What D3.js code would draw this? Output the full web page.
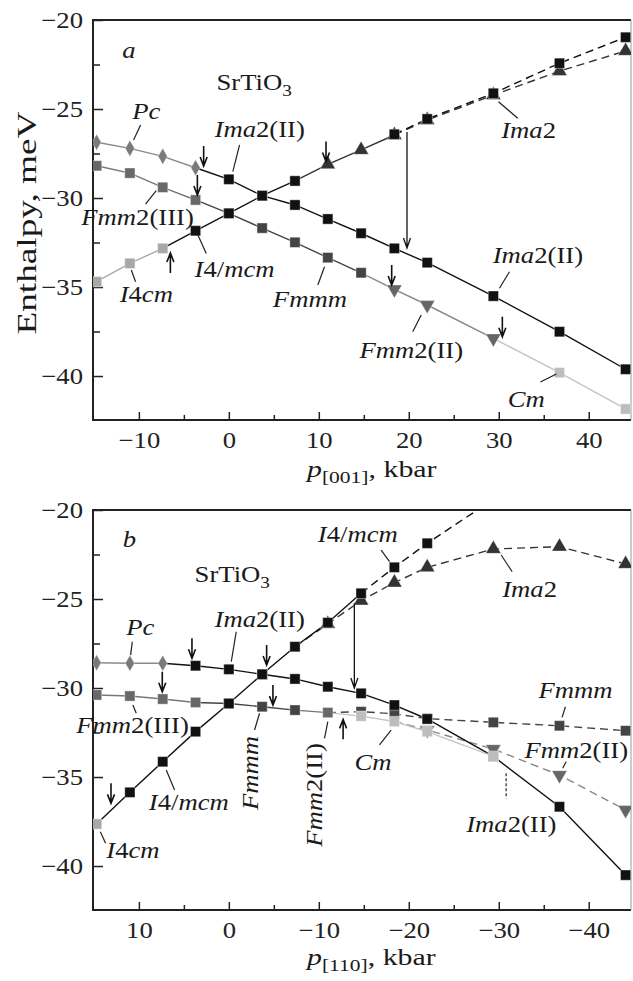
<!DOCTYPE html>
<html>
<head>
<meta charset="utf-8">
<script src="https://cdn.jsdelivr.net/npm/d3@7"></script>
<style>
body { margin: 0; background: #fff; }
</style>
</head>
<body>
<script>
// SrTiO3 enthalpy vs uniaxial pressure, two panels

var W = 633, H = 981;
var serif = "'Liberation Serif', 'Times New Roman', serif";
var TXT = 23, STRETCH = 1.16;   // reference glyphs are wide for their height

// ---------- panel a : p[001] ----------
var aPc_p = [-14.7, -11, -7.35, -3.7];
var aPc_e = [-26.87, -27.21, -27.66, -28.30];
var aIma2II_p = [0, 3.7, 7.35, 11, 14.7, 18.4, 22.05, 29.4, 36.75, 44.1];
var aIma2II_e = [-28.95, -29.87, -30.39, -31.18, -31.98, -32.83, -33.63, -35.51, -37.51, -39.62];
var aFmm2III_p = [-14.7, -11, -7.35, -3.7];
var aFmm2III_e = [-28.19, -28.60, -29.40, -30.11];
var aFmmm_p = [0, 3.7, 7.35, 11, 14.7];
var aFmmm_e = [-30.86, -31.69, -32.49, -33.35, -34.20];
var aFmm2II_p = [18.4, 22.05, 29.4];
var aFmm2II_e = [-35.13, -36.01, -37.88];
var aCm_p = [36.75, 44.1];
var aCm_e = [-39.81, -41.85];
var aI4cm_p = [-14.7, -11, -7.35];
var aI4cm_e = [-34.70, -33.67, -32.83];
var aI4mcm_p = [-3.7, 0, 3.7, 7.35];
var aI4mcm_e = [-31.84, -30.86, -29.87, -29.04];
var aIma2_p = [11, 14.7, 18.4];
var aIma2_e = [-28.11, -27.30, -26.46];
var aIma2d_p = [22.05, 29.4, 36.75, 44.1];
var aIma2d_e = [-25.62, -24.22, -22.87, -21.74];
var aI4mcmd_p = [18.4, 22.05, 29.4, 36.75, 44.1];
var aI4mcmd_e = [-26.42, -25.56, -24.12, -22.43, -20.97];

// ---------- panel b : p[110] ----------
var bPc_p = [14.7, 11, 7.35];
var bPc_e = [-28.58, -28.61, -28.61];
var bIma2II_p = [3.7, 0, -3.7, -7.35, -11, -14.7, -18.4, -22.05, -29.4, -36.75, -44.1];
var bIma2II_e = [-28.75, -28.95, -29.23, -29.49, -29.93, -30.30, -30.96, -31.74, -33.84, -36.67, -40.51];
var bFmm2III_p = [14.7, 11, 7.35, 3.7];
var bFmm2III_e = [-30.39, -30.45, -30.62, -30.81];
var bFmmm_p = [0, -3.7, -7.35];
var bFmmm_e = [-30.87, -31.05, -31.24];
var bFmm2II_p = [-11];
var bFmm2II_e = [-31.38];
var bCm_p = [-14.7, -18.4, -22.05, -29.4];
var bCm_e = [-31.58, -31.88, -32.45, -33.84];
var bFmmmd_p = [-14.7, -18.4, -22.05, -29.4, -36.75, -44.1];
var bFmmmd_e = [-31.33, -31.45, -31.72, -31.93, -32.12, -32.40];
var bFmm2IId_p = [-22.05, -29.4, -36.75, -44.1];
var bFmm2IId_e = [-32.36, -33.43, -34.89, -36.85];
var bI4cm_p = [14.7];
var bI4cm_e = [-37.64];
var bI4mcm_p = [11, 7.35, 3.7, 0, -3.7, -7.35, -11, -14.7];
var bI4mcm_e = [-35.86, -34.14, -32.45, -30.87, -29.23, -27.68, -26.33, -24.68];
var bI4mcmd_p = [-18.4, -22.05, -29.4];
var bI4mcmd_e = [-23.22, -21.87, -19.4];
var bIma2d_p = [-11, -14.7, -18.4, -22.05, -29.4, -36.75, -44.1];
var bIma2d_e = [-26.40, -25.09, -24.08, -23.22, -22.19, -22.06, -23.03];

// ticks
var yTicks = [-40, -35, -30, -25, -20];
var yMinor = [-37.5, -32.5, -27.5, -22.5];
var aXTicks = [-10, 0, 10, 20, 30, 40];
var aXMinor = [-5, 5, 15, 25, 35];
var bXTicks = [10, 0, -10, -20, -30, -40];
var bXMinor = [5, -5, -15, -25, -35];

// arrows (pressure, tip enthalpy, direction 1 = down)
var aArrP = [-2.8, -3.5, 10.8, -6.5, 18.1, 30.4];
var aArrE = [-28.20, -29.83, -27.95, -33.09, -34.89, -37.79];
var aArrDir = [1, 1, 1, -1, 1, 1];
var bArrP = [4.1, -4.2, 7.4, -4.9, 13.1, -12.7];
var bArrE = [-28.33, -28.71, -30.21, -30.96, -36.48, -31.76];
var bArrDir = [1, 1, 1, 1, 1, -1];
var aLong = [19.8, -26.29, -32.81];
var bLong = [-13.95, -25.24, -30.0];

// labels: "*" toggles italic, "_" subscript
var aLabText = ["*a*", "SrTiO_3", "*Pc*", "*Ima*2(II)", "*Fmm*2(III)", "*I*4/*mcm*", "*I*4*cm*",
                "*Fmmm*", "*Ima*2", "*Ima*2(II)", "*Fmm*2(II)", "*Cm*"];
var aLabP = [-11.84, -1.37, -10.73, -1.59, -16.4, -3.81, -12.14, 4.89, 30.27, 29.33, 14.52, 31.0];
var aLabE = [-22.13, -23.93, -25.56, -26.56, -31.52, -34.46, -35.83, -36.11, -26.65, -33.67, -39.01, -41.72];
var aLeaders = [
  [-9.81, -25.90, -10.59, -26.74],
  [1.19, -27.02, 0.44, -28.52],
  [-9.26, -30.34, -8.07, -29.59],
  [-3.44, -32.08, -2.51, -33.11],
  [-10.84, -34.04, -10.37, -34.70],
  [10.63, -33.86, 9.89, -34.89],
  [29.97, -24.59, 32.11, -25.52],
  [31.19, -34.14, 30.08, -35.07],
  [21.38, -36.57, 20.44, -37.51],
  [34.63, -40.34, 36.41, -39.89]
];

var bLabText = ["*b*", "SrTiO_3", "*Pc*", "*Ima*2(II)", "*I*4/*mcm*", "*Ima*2", "*Fmmm*", "*Fmm*2(II)",
                "*Ima*2(II)", "*Cm*", "*Fmm*2(III)", "*I*4/*mcm*", "*I*4*cm*", "*Fmmm*", "*Fmm*2(II)"];
var bLabP = [11.78, 3.81, 11.4, 1.59, -9.89, -30.38, -34.41, -32.86, -26.38, -13.97, 16.96, 8.89, 13.62, -3.22, -10.3];
var bLabE = [-22.06, -24.03, -27.02, -26.56, -21.78, -24.87, -30.56, -33.95, -38.07, -34.61, -32.54, -36.85, -39.57, -36.85, -38.92];
var bLabRot = [0, 0, 0, 0, 0, 0, 0, 0, 0, 0, 0, 0, 0, 1, 1];
var bLeaders = [
  [10.73, -27.40, 10.92, -28.15],
  [-0.82, -26.84, -0.27, -28.52],
  [-16.93, -22.25, -17.86, -22.90],
  [-30.27, -22.53, -31.49, -23.47],
  [-37.41, -31.05, -37.04, -31.65],
  [-37.49, -34.14, -37.11, -34.51],
  [-30.82, -34.79, -30.82, -36.2],
  [-16.74, -33.20, -18.04, -32.36],
  [10.29, -31.42, 10.67, -30.96],
  [6.96, -34.61, 6.03, -35.73],
  [14.29, -38.07, 13.7, -38.72],
  [-3.41, -31.42, -2.86, -32.36],
  [-11, -31.89, -10.63, -32.83]
];
var bLeaderDash = [0, 0, 0, 0, 0, 0, 1, 0, 0, 0, 0, 0, 0];

// phase styles
var sty = {
  Pc:      {sym: "diamond", fill: "#7a7a7a", line: "#8a8a8a"},
  Fmm2III: {sym: "square",  fill: "#686868", line: "#777"},
  Fmmm:    {sym: "square",  fill: "#444",    line: "#444"},
  Fmm2II:  {sym: "tridown", fill: "#666",    line: "#888"},
  Cm:      {sym: "square",  fill: "#bdbdbd", line: "#c4c4c4"},
  I4cm:    {sym: "square",  fill: "#a8a8a8", line: "#aaa"},
  Ima2:    {sym: "triup",   fill: "#333",    line: "#333"},
  black:   {sym: "square",  fill: "#111",    line: "#111"}
};

function ph(p, e, s, opt) {
  var o = {p: p, e: e, s: sty[s], dash: false, join: null};
  if (opt) { for (var k in opt) o[k] = opt[k]; }
  return o;
}

// panel a phases, in marker drawing order
var aPh = {};
aPh.Pc = ph(aPc_p, aPc_e, "Pc");
aPh.Fmm2III = ph(aFmm2III_p, aFmm2III_e, "Fmm2III");
aPh.Fmmm = ph(aFmmm_p, aFmmm_e, "Fmmm", {join: ["Fmm2III", 3]});
aPh.Fmm2II = ph(aFmm2II_p, aFmm2II_e, "Fmm2II", {join: ["Fmmm", 4]});
aPh.Cm = ph(aCm_p, aCm_e, "Cm", {join: ["Fmm2II", 2]});
aPh.I4cm = ph(aI4cm_p, aI4cm_e, "I4cm");
aPh.I4mcm = ph(aI4mcm_p, aI4mcm_e, "black", {join: ["I4cm", 2]});
aPh.Ima2 = ph(aIma2_p, aIma2_e, "Ima2", {join: ["I4mcm", 3]});
aPh.Ima2d = ph(aIma2d_p, aIma2d_e, "Ima2", {join: ["Ima2", 2], dash: true});
aPh.I4mcmd = ph(aI4mcmd_p, aI4mcmd_e, "black", {dash: true});
aPh.Ima2II = ph(aIma2II_p, aIma2II_e, "black", {join: ["Pc", 3]});

var bPh = {};
bPh.Pc = ph(bPc_p, bPc_e, "Pc");
bPh.Fmmmd = ph(bFmmmd_p, bFmmmd_e, "Fmmm", {join: ["Fmm2II", 0], dash: true});
bPh.Fmm2III = ph(bFmm2III_p, bFmm2III_e, "Fmm2III");
bPh.Fmmm = ph(bFmmm_p, bFmmm_e, "Fmmm", {join: ["Fmm2III", 3]});
bPh.Fmm2IId = ph(bFmm2IId_p, bFmm2IId_e, "Fmm2II", {join: ["Cm", 1], dash: true});
bPh.Fmm2II = ph(bFmm2II_p, bFmm2II_e, "Fmm2III", {join: ["Fmmm", 2]});
bPh.I4cm = ph(bI4cm_p, bI4cm_e, "I4cm");
bPh.Ima2d = ph(bIma2d_p, bIma2d_e, "Ima2", {join: ["I4mcm", 5], dash: true});
bPh.I4mcm = ph(bI4mcm_p, bI4mcm_e, "black", {join: ["I4cm", 0]});
bPh.I4mcmd = ph(bI4mcmd_p, bI4mcmd_e, "black", {join: ["I4mcm", 7], dash: true});
bPh.Ima2II = ph(bIma2II_p, bIma2II_e, "black", {join: ["Pc", 2]});
bPh.Cm = ph(bCm_p, bCm_e, "Cm", {join: ["Fmm2II", 0]});

var svg = d3.select("body").append("svg")
    .attr("width", W)
    .attr("height", H)
    .attr("font-family", serif);

function richText(sel, spec, size) {
  var parts = [], cur = "", it = false, i;
  for (i = 0; i < spec.length; i++) {
    var c = spec[i];
    if (c === "*") {
      if (cur) parts.push({t: cur, it: it});
      cur = ""; it = !it;
    } else if (c === "_") {
      if (cur) parts.push({t: cur, it: it});
      cur = "";
      if (spec[i + 1] === "{") {
        var j = spec.indexOf("}", i);
        parts.push({t: spec.slice(i + 2, j), it: false, sub: true});
        i = j;
      } else {
        parts.push({t: spec[i + 1], it: false, sub: true});
        i++;
      }
    } else cur += c;
  }
  if (cur) parts.push({t: cur, it: it});
  var shift = 0;
  parts.forEach(function(p) {
    var ts = sel.append("tspan").text(p.t).attr("font-style", p.it ? "italic" : "normal");
    if (p.sub) {
      shift = size * 0.28;
      ts.attr("dy", shift).attr("font-size", size * 0.72);
    } else if (shift) {
      ts.attr("dy", -shift);
      shift = 0;
    }
  });
}

function drawPanel(cfg) {
  var top = cfg.top, h = 400;
  var x = d3.scaleLinear().domain(cfg.xDom).range([93, 631]);
  var y = d3.scaleLinear().domain([-42.47, -20]).range([top + h, top]);
  var g = svg.append("g");

  var clipId = "clip" + cfg.name;
  svg.append("clipPath").attr("id", clipId)
    .append("rect").attr("x", 93).attr("y", top).attr("width", 538).attr("height", h);

  // axes, ticks point inward
  var xa = g.append("g").attr("transform", "translate(0," + (top + h) + ")")
    .call(d3.axisBottom(x).tickValues(cfg.xTicks).tickSize(-8).tickPadding(12));
  g.append("g").attr("transform", "translate(0," + (top + h) + ")")
    .call(d3.axisBottom(x).tickValues(cfg.xMinor).tickSize(-5).tickFormat(""));
  var ya = g.append("g").attr("transform", "translate(93,0)")
    .call(d3.axisLeft(y).tickValues(yTicks).tickSize(-10).tickPadding(10));
  g.append("g").attr("transform", "translate(93,0)")
    .call(d3.axisLeft(y).tickValues(yMinor).tickSize(-7).tickFormat(""));
  g.selectAll(".domain").remove();
  g.selectAll(".tick line").attr("stroke", "#222").attr("stroke-width", 1.5);
  g.selectAll(".tick text")
    .attr("font-family", serif)
    .attr("font-size", TXT)
    .attr("fill", "#222")
    .attr("transform", "scale(" + STRETCH + ",1)");
  ya.selectAll(".tick text").attr("x", -10 / STRETCH).attr("dy", "0.33em");

  // frame
  g.append("path")
    .attr("d", "M631," + top + "H93V" + (top + h) + "H631")
    .attr("fill", "none").attr("stroke", "#222").attr("stroke-width", 2);
  g.append("line")
    .attr("x1", 631).attr("x2", 631).attr("y1", top).attr("y2", top + h)
    .attr("stroke", "#999").attr("stroke-width", 1);

  var plot = g.append("g").attr("clip-path", "url(#" + clipId + ")");
  var line = d3.line().x(function(d) { return x(d[0]); }).y(function(d) { return y(d[1]); });
  var keys = Object.keys(cfg.ph);

  // lines
  keys.forEach(function(k) {
    var f = cfg.ph[k];
    var pts = f.p.map(function(p, i) { return [p, f.e[i]]; });
    if (f.join) {
      var j = cfg.ph[f.join[0]];
      pts.unshift([j.p[f.join[1]], j.e[f.join[1]]]);
    }
    plot.append("path")
      .attr("d", line(pts))
      .attr("fill", "none")
      .attr("stroke", f.s.line)
      .attr("stroke-width", 1.4)
      .attr("stroke-dasharray", f.dash ? "8,5" : null);
  });

  // markers
  var symSq = d3.symbol().type(d3.symbolSquare).size(105);
  var symDi = d3.symbol().type(d3.symbolDiamond).size(75);
  var symTr = d3.symbol().type(d3.symbolTriangle).size(100);
  keys.forEach(function(k) {
    var f = cfg.ph[k];
    plot.selectAll(null)
      .data(f.p.map(function(p, i) { return [p, f.e[i]]; }))
      .enter().append("path")
      .attr("d", f.s.sym === "square" ? symSq : f.s.sym === "diamond" ? symDi : symTr)
      .attr("transform", function(d) {
        return "translate(" + x(d[0]) + "," + y(d[1]) + ")" + (f.s.sym === "tridown" ? " rotate(180)" : "");
      })
      .attr("fill", f.s.fill)
      .attr("stroke", "#fff")
      .attr("stroke-width", 0.4);
  });

  // short arrows
  var arr = g.append("g").attr("stroke", "#111").attr("stroke-width", 1.6).attr("fill", "none");
  cfg.arrP.forEach(function(p, i) {
    var tx = x(p), ty = y(cfg.arrE[i]), d = cfg.arrDir[i];
    arr.append("path")
      .attr("d", "M" + tx + "," + (ty - 20 * d) + "V" + ty +
                 "M" + (tx - 3.5) + "," + (ty - 9 * d) + "L" + tx + "," + ty + "L" + (tx + 3.5) + "," + (ty - 9 * d));
  });
  // long arrow
  var lx = x(cfg.long[0]), ly1 = y(cfg.long[1]), ly2 = y(cfg.long[2]);
  arr.append("path")
    .attr("stroke-width", 1.3)
    .attr("d", "M" + lx + "," + ly1 + "V" + ly2 +
               "M" + (lx - 3.5) + "," + (ly2 - 10) + "L" + lx + "," + ly2 + "L" + (lx + 3.5) + "," + (ly2 - 10));

  // leaders
  cfg.leaders.forEach(function(l, i) {
    g.append("line")
      .attr("x1", x(l[0])).attr("y1", y(l[1]))
      .attr("x2", x(l[2])).attr("y2", y(l[3]))
      .attr("stroke", "#222").attr("stroke-width", 1.2)
      .attr("stroke-dasharray", cfg.leaderDash && cfg.leaderDash[i] ? "3,2" : null);
  });

  // labels
  cfg.labText.forEach(function(t, i) {
    var tx = x(cfg.labP[i]), ty = y(cfg.labE[i]);
    var rot = cfg.labRot && cfg.labRot[i];
    var el = g.append("text")
      .attr("font-size", TXT)
      .attr("fill", "#1a1a1a")
      .attr("transform", "translate(" + tx + "," + ty + ")" + (rot ? " rotate(-90)" : "") +
                         " scale(" + STRETCH + ",1)");
    richText(el, t, TXT);
  });

  // x label
  var xl = g.append("text")
    .attr("font-size", 23)
    .attr("fill", "#1a1a1a")
    .attr("transform", "translate(307," + (top + h + cfg.xLabDy) + ") scale(1.3,1)");
  richText(xl, cfg.xLab, 23);
}

drawPanel({
  name: "a", top: 20, xDom: [-15.1, 44.7], xTicks: aXTicks, xMinor: aXMinor, ph: aPh,
  arrP: aArrP, arrE: aArrE, arrDir: aArrDir, long: aLong,
  labText: aLabText, labP: aLabP, labE: aLabE, leaders: aLeaders,
  xLab: "*p*_{[001]}, kbar", xLabDy: 57
});
drawPanel({
  name: "b", top: 510, xDom: [15.1, -44.7], xTicks: bXTicks, xMinor: bXMinor, ph: bPh,
  arrP: bArrP, arrE: bArrE, arrDir: bArrDir, long: bLong,
  labText: bLabText, labP: bLabP, labE: bLabE, labRot: bLabRot, leaders: bLeaders, leaderDash: bLeaderDash,
  xLab: "*p*_{[110]}, kbar", xLabDy: 55
});

// y axis title
svg.append("text")
  .attr("transform", "translate(36,223) rotate(-90) scale(1.38,1)")
  .attr("text-anchor", "middle")
  .attr("font-size", 27)
  .attr("fill", "#1a1a1a")
  .text("Enthalpy, meV");
</script>
</body>
</html>
